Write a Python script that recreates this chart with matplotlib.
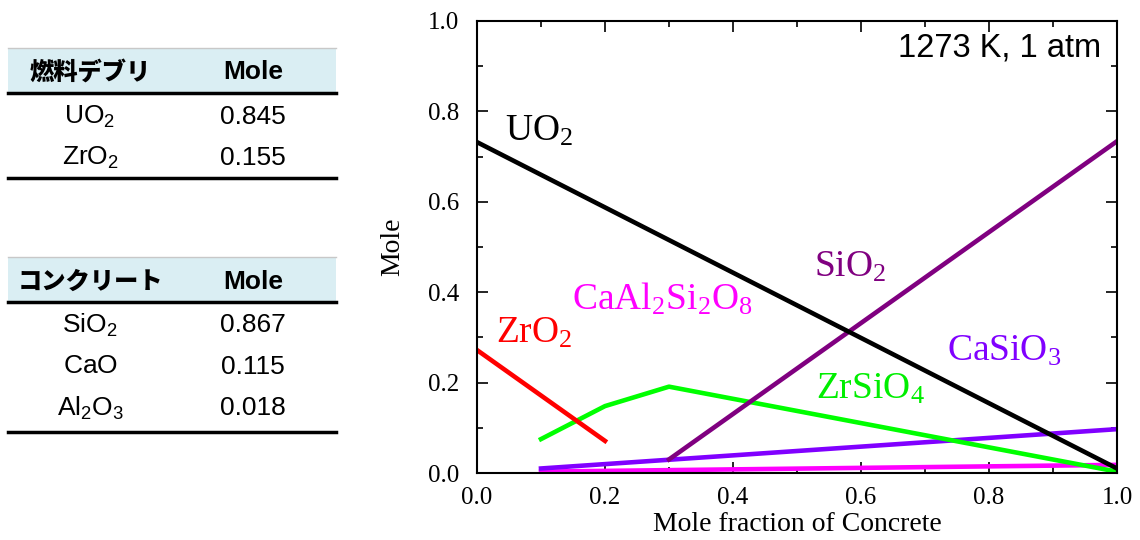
import matplotlib
matplotlib.use('Agg')
import matplotlib.pyplot as plt
from matplotlib.ticker import MultipleLocator

plt.rcParams['font.family'] = ['Liberation Serif', 'Noto Sans CJK JP']
plt.rcParams['mathtext.fontset'] = 'custom'
plt.rcParams['mathtext.rm'] = 'Liberation Serif'
plt.rcParams['mathtext.sf'] = 'Liberation Sans'

# composition tables
debris_names = [r'$\mathsf{UO_2}$', r'$\mathsf{ZrO_2}$']
debris_mole = ['0.845', '0.155']
concrete_names = [r'$\mathsf{SiO_2}$', r'$\mathsf{CaO}$', r'$\mathsf{Al_2O_3}$']
concrete_mole = ['0.867', '0.115', '0.018']

# equilibrium phases vs mole fraction of concrete
uo2_x = [0.0, 1.0]
uo2_y = [0.732, 0.01]
zro2_x = [0.0, 0.2]
zro2_y = [0.272, 0.071]
zrsio4_x = [0.1, 0.2, 0.3, 1.0]
zrsio4_y = [0.075, 0.148, 0.191, 0.003]
sio2_x = [0.3, 1.0]
sio2_y = [0.03, 0.734]
casio3_x = [0.1, 1.0]
casio3_y = [0.01, 0.097]
anorthite_x = [0.1, 1.0]
anorthite_y = [0.003, 0.018]

fig = plt.figure(figsize=(11.4, 5.4), dpi=100)
W, H = 1140, 540

def fy(py):
    return 1 - py / H

def fx(px):
    return px / W

def draw_table(top, header_bottom, bottom, head_y, row_ys, head, names, moles):
    x0, x1 = fx(8), fx(336)
    fig.patches.append(plt.Rectangle((x0, fy(header_bottom)), x1 - x0,
                                     fy(top) - fy(header_bottom),
                                     transform=fig.transFigure,
                                     facecolor='#daeef3', edgecolor='none'))
    fig.add_artist(plt.Line2D([x0, x1], [fy(top), fy(top)], color='#c8c8c8', lw=1))
    fig.add_artist(plt.Line2D([x0, x1], [fy(header_bottom)] * 2, color='black', lw=2.5))
    fig.add_artist(plt.Line2D([x0, x1], [fy(bottom)] * 2, color='black', lw=2.5))
    fig.text(fx(90), fy(head_y), head, ha='center', va='center', fontsize=17.5,
             fontweight='heavy', family=['Noto Sans CJK JP'])
    fig.text(fx(253), fy(head_y), 'Mole', ha='center', va='center', fontsize=19,
             fontweight='bold', family=['Liberation Sans'])
    for y, n, m in zip(row_ys, names, moles):
        fig.text(fx(90), fy(y), n, ha='center', va='center', fontsize=19)
        fig.text(fx(253), fy(y), m, ha='center', va='center', fontsize=19,
                 family=['Liberation Sans'])

draw_table(48, 93, 178, 72, [117, 158], '燃料デブリ', debris_names, debris_mole)
draw_table(257, 302, 432, 282, [325, 367, 408], 'コンクリート', concrete_names, concrete_mole)

ax = fig.add_axes([477 / W, 1 - 473 / H, 640 / W, 452 / H])
lw = 3.3
ax.plot(anorthite_x, anorthite_y, color='#ff00ff', lw=lw)
ax.plot(casio3_x, casio3_y, color='#8000ff', lw=lw)
ax.plot(zrsio4_x, zrsio4_y, color='#00ff00', lw=lw)
ax.plot(zro2_x, zro2_y, color='#ff0000', lw=lw)
ax.plot(sio2_x, sio2_y, color='#800080', lw=lw)
ax.plot(uo2_x, uo2_y, color='black', lw=lw)

ax.set_xlim(0, 1)
ax.set_ylim(0, 1)
ax.xaxis.set_major_locator(MultipleLocator(0.2))
ax.xaxis.set_minor_locator(MultipleLocator(0.1))
ax.yaxis.set_major_locator(MultipleLocator(0.2))
ax.yaxis.set_minor_locator(MultipleLocator(0.1))
ax.xaxis.set_major_formatter(lambda v, p: f'{v:.1f}')
ax.yaxis.set_major_formatter(lambda v, p: f'{v:.1f}')
ax.tick_params(which='both', direction='in', top=True, right=True, labelsize=18, width=1.2)
ax.tick_params(which='major', length=8)
ax.tick_params(which='minor', length=4)
ax.tick_params(axis='x', which='major', pad=10)
ax.tick_params(axis='y', which='major', pad=13)
for s in ax.spines.values():
    s.set_linewidth(1.5)
ax.set_xlabel('Mole fraction of Concrete', fontsize=20, labelpad=2)
ax.set_ylabel('Mole', fontsize=20, labelpad=16)

ax.text(0.975, 0.94, '1273 K, 1 atm', transform=ax.transAxes, ha='right', va='center',
        fontsize=23.5, family=['Liberation Sans'])
lab = dict(fontsize=27, va='center', ha='left')
ax.text(0.044, 0.755, r'$\mathrm{UO_2}$', color='black', **lab)
ax.text(0.527, 0.455, r'$\mathrm{SiO_2}$', color='#800080', **lab)
ax.text(0.148, 0.385, r'$\mathrm{CaAl_2Si_2O_8}$', color='#ff00ff', **lab)
ax.text(0.03, 0.31, r'$\mathrm{ZrO_2}$', color='#ff0000', **lab)
ax.text(0.734, 0.27, r'$\mathrm{CaSiO_3}$', color='#8000ff', **lab)
ax.text(0.53, 0.185, r'$\mathrm{ZrSiO_4}$', color='#00ee00', **lab)

fig.savefig('out.png', dpi=100)
